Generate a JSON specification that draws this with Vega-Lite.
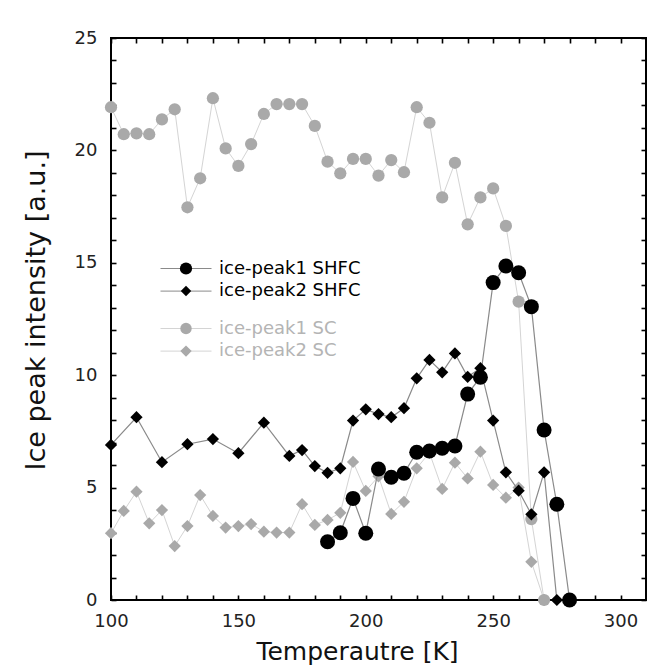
{
  "$schema": "https://vega.github.io/schema/vega-lite/v6.json",
  "width": 535,
  "height": 562,
  "autosize": "none",
  "padding": {"left": 111, "top": 38, "right": 6, "bottom": 70},
  "background": "white",
  "config": {
    "view": {"stroke": "black", "strokeWidth": 2},
    "font": "DejaVu Sans"
  },
  "data": {"values": [
    {"T":100,"I":2.97,"series":"ice-peak2 SC"},{"T":105,"I":3.96,"series":"ice-peak2 SC"},{"T":110,"I":4.82,"series":"ice-peak2 SC"},{"T":115,"I":3.41,"series":"ice-peak2 SC"},{"T":120,"I":4.0,"series":"ice-peak2 SC"},{"T":125,"I":2.4,"series":"ice-peak2 SC"},{"T":130,"I":3.29,"series":"ice-peak2 SC"},{"T":135,"I":4.67,"series":"ice-peak2 SC"},{"T":140,"I":3.74,"series":"ice-peak2 SC"},{"T":145,"I":3.22,"series":"ice-peak2 SC"},{"T":150,"I":3.29,"series":"ice-peak2 SC"},{"T":155,"I":3.38,"series":"ice-peak2 SC"},{"T":160,"I":3.04,"series":"ice-peak2 SC"},{"T":165,"I":3.0,"series":"ice-peak2 SC"},{"T":170,"I":3.0,"series":"ice-peak2 SC"},{"T":175,"I":4.26,"series":"ice-peak2 SC"},{"T":180,"I":3.34,"series":"ice-peak2 SC"},{"T":185,"I":3.56,"series":"ice-peak2 SC"},{"T":190,"I":3.88,"series":"ice-peak2 SC"},{"T":195,"I":6.14,"series":"ice-peak2 SC"},{"T":200,"I":4.85,"series":"ice-peak2 SC"},{"T":205,"I":5.5,"series":"ice-peak2 SC"},{"T":210,"I":3.83,"series":"ice-peak2 SC"},{"T":215,"I":4.37,"series":"ice-peak2 SC"},{"T":220,"I":5.86,"series":"ice-peak2 SC"},{"T":225,"I":6.55,"series":"ice-peak2 SC"},{"T":230,"I":4.94,"series":"ice-peak2 SC"},{"T":235,"I":6.11,"series":"ice-peak2 SC"},{"T":240,"I":5.41,"series":"ice-peak2 SC"},{"T":245,"I":6.6,"series":"ice-peak2 SC"},{"T":250,"I":5.12,"series":"ice-peak2 SC"},{"T":255,"I":4.55,"series":"ice-peak2 SC"},{"T":260,"I":5.0,"series":"ice-peak2 SC"},{"T":265,"I":1.7,"series":"ice-peak2 SC"},{"T":270,"I":0,"series":"ice-peak2 SC"},
    {"T":100,"I":21.92,"series":"ice-peak1 SC"},{"T":105,"I":20.72,"series":"ice-peak1 SC"},{"T":110,"I":20.76,"series":"ice-peak1 SC"},{"T":115,"I":20.72,"series":"ice-peak1 SC"},{"T":120,"I":21.38,"series":"ice-peak1 SC"},{"T":125,"I":21.83,"series":"ice-peak1 SC"},{"T":130,"I":17.47,"series":"ice-peak1 SC"},{"T":135,"I":18.76,"series":"ice-peak1 SC"},{"T":140,"I":22.32,"series":"ice-peak1 SC"},{"T":145,"I":20.09,"series":"ice-peak1 SC"},{"T":150,"I":19.31,"series":"ice-peak1 SC"},{"T":155,"I":20.28,"series":"ice-peak1 SC"},{"T":160,"I":21.62,"series":"ice-peak1 SC"},{"T":165,"I":22.06,"series":"ice-peak1 SC"},{"T":170,"I":22.06,"series":"ice-peak1 SC"},{"T":175,"I":22.06,"series":"ice-peak1 SC"},{"T":180,"I":21.09,"series":"ice-peak1 SC"},{"T":185,"I":19.5,"series":"ice-peak1 SC"},{"T":190,"I":18.98,"series":"ice-peak1 SC"},{"T":195,"I":19.62,"series":"ice-peak1 SC"},{"T":200,"I":19.62,"series":"ice-peak1 SC"},{"T":205,"I":18.88,"series":"ice-peak1 SC"},{"T":210,"I":19.57,"series":"ice-peak1 SC"},{"T":215,"I":19.03,"series":"ice-peak1 SC"},{"T":220,"I":21.92,"series":"ice-peak1 SC"},{"T":225,"I":21.23,"series":"ice-peak1 SC"},{"T":230,"I":17.91,"series":"ice-peak1 SC"},{"T":235,"I":19.45,"series":"ice-peak1 SC"},{"T":240,"I":16.71,"series":"ice-peak1 SC"},{"T":245,"I":17.91,"series":"ice-peak1 SC"},{"T":250,"I":18.31,"series":"ice-peak1 SC"},{"T":255,"I":16.64,"series":"ice-peak1 SC"},{"T":260,"I":13.27,"series":"ice-peak1 SC"},{"T":265,"I":3.6,"series":"ice-peak1 SC"},{"T":270,"I":0,"series":"ice-peak1 SC"},
    {"T":100,"I":6.9,"series":"ice-peak2 SHFC"},{"T":110,"I":8.13,"series":"ice-peak2 SHFC"},{"T":120,"I":6.13,"series":"ice-peak2 SHFC"},{"T":130,"I":6.93,"series":"ice-peak2 SHFC"},{"T":140,"I":7.16,"series":"ice-peak2 SHFC"},{"T":150,"I":6.53,"series":"ice-peak2 SHFC"},{"T":160,"I":7.89,"series":"ice-peak2 SHFC"},{"T":170,"I":6.41,"series":"ice-peak2 SHFC"},{"T":175,"I":6.67,"series":"ice-peak2 SHFC"},{"T":180,"I":5.96,"series":"ice-peak2 SHFC"},{"T":185,"I":5.66,"series":"ice-peak2 SHFC"},{"T":190,"I":5.86,"series":"ice-peak2 SHFC"},{"T":195,"I":7.98,"series":"ice-peak2 SHFC"},{"T":200,"I":8.48,"series":"ice-peak2 SHFC"},{"T":205,"I":8.27,"series":"ice-peak2 SHFC"},{"T":210,"I":8.13,"series":"ice-peak2 SHFC"},{"T":215,"I":8.53,"series":"ice-peak2 SHFC"},{"T":220,"I":9.86,"series":"ice-peak2 SHFC"},{"T":225,"I":10.68,"series":"ice-peak2 SHFC"},{"T":230,"I":10.13,"series":"ice-peak2 SHFC"},{"T":235,"I":10.97,"series":"ice-peak2 SHFC"},{"T":240,"I":9.93,"series":"ice-peak2 SHFC"},{"T":245,"I":10.31,"series":"ice-peak2 SHFC"},{"T":250,"I":7.98,"series":"ice-peak2 SHFC"},{"T":255,"I":5.68,"series":"ice-peak2 SHFC"},{"T":260,"I":4.86,"series":"ice-peak2 SHFC"},{"T":265,"I":3.81,"series":"ice-peak2 SHFC"},{"T":270,"I":5.68,"series":"ice-peak2 SHFC"},{"T":275,"I":0,"series":"ice-peak2 SHFC"},
    {"T":185,"I":2.59,"series":"ice-peak1 SHFC"},{"T":190,"I":2.99,"series":"ice-peak1 SHFC"},{"T":195,"I":4.52,"series":"ice-peak1 SHFC"},{"T":200,"I":2.97,"series":"ice-peak1 SHFC"},{"T":205,"I":5.83,"series":"ice-peak1 SHFC"},{"T":210,"I":5.46,"series":"ice-peak1 SHFC"},{"T":215,"I":5.64,"series":"ice-peak1 SHFC"},{"T":220,"I":6.57,"series":"ice-peak1 SHFC"},{"T":225,"I":6.63,"series":"ice-peak1 SHFC"},{"T":230,"I":6.75,"series":"ice-peak1 SHFC"},{"T":235,"I":6.85,"series":"ice-peak1 SHFC"},{"T":240,"I":9.16,"series":"ice-peak1 SHFC"},{"T":245,"I":9.91,"series":"ice-peak1 SHFC"},{"T":250,"I":14.12,"series":"ice-peak1 SHFC"},{"T":255,"I":14.86,"series":"ice-peak1 SHFC"},{"T":260,"I":14.56,"series":"ice-peak1 SHFC"},{"T":265,"I":13.05,"series":"ice-peak1 SHFC"},{"T":270,"I":7.56,"series":"ice-peak1 SHFC"},{"T":275,"I":4.26,"series":"ice-peak1 SHFC"},{"T":280,"I":0,"series":"ice-peak1 SHFC"}
  ]},
  "layer": [
    {
      "transform": [{"filter": {"field": "series", "oneOf": ["ice-peak1 SC", "ice-peak2 SC"]}}],
      "mark": {"type": "line", "strokeWidth": 1},
      "encoding": {
        "x": {"field": "T", "type": "quantitative", "scale": {"domain": [100, 310], "nice": false, "zero": false},
          "axis": {"orient": "top", "values": [100,110,120,130,140,150,160,170,180,190,200,210,220,230,240,250,260,270,280,290,300], "labels": false, "title": null, "domain": false, "grid": false, "tickSize": -5, "tickColor": "black", "tickWidth": 1.6,
            "encode": {"ticks": {"update": {"y2": {"signal": "datum.value % 50 === 0 ? 7 : 4"}}}}}},
        "y": {"field": "I", "type": "quantitative", "scale": {"domain": [0, 25], "nice": false},
          "axis": {"orient": "right", "values": [0,1,2,3,4,5,6,7,8,9,10,11,12,13,14,15,16,17,18,19,20,21,22,23,24,25], "labels": false, "title": null, "domain": false, "grid": false, "tickSize": -5, "tickColor": "black", "tickWidth": 1.6,
            "encode": {"ticks": {"update": {"x2": {"signal": "datum.value % 5 === 0 ? -7 : -4"}}}}}},
        "stroke": {"field": "series", "type": "nominal", "scale": {"domain": ["ice-peak1 SC", "ice-peak2 SC"], "range": ["#d4d4d4", "#d4d4d4"]},
          "legend": {"orient": "none", "legendX": 66, "legendY": 281.5, "title": null, "symbolType": "M-4.25,0H4.25", "symbolSize": 144, "symbolStrokeWidth": 1, "labelFont": "DejaVu Sans", "labelFontSize": 18, "labelColor": "#b4b4b4", "labelOffset": 24, "rowPadding": 4.6, "padding": 0, "zindex": 0}}
      }
    },
    {
      "transform": [{"filter": {"field": "series", "oneOf": ["ice-peak1 SC", "ice-peak2 SC"]}}],
      "mark": {"type": "point", "filled": true, "opacity": 1, "strokeWidth": 0, "size": 150},
      "encoding": {
        "x": {"field": "T", "type": "quantitative", "axis": null},
        "y": {"field": "I", "type": "quantitative", "axis": null},
        "fill": {"field": "series", "type": "nominal", "scale": {"range": ["#a9a9a9", "#a9a9a9"]},
          "legend": {"orient": "none", "legendX": 66, "legendY": 281.5, "title": null, "symbolSize": 130, "symbolStrokeWidth": 0, "symbolOpacity": 1, "labelExpr": "' '", "labelFontSize": 18, "rowPadding": 4.6, "padding": 0, "zindex": 1}},
        "shape": {"field": "series", "type": "nominal", "scale": {"range": ["circle", "diamond"]},
          "legend": {"orient": "none", "legendX": 66, "legendY": 281.5, "title": null, "symbolSize": 130, "symbolStrokeWidth": 0, "symbolOpacity": 1, "labelExpr": "' '", "labelFontSize": 18, "rowPadding": 4.6, "padding": 0, "zindex": 1}}
      }
    },
    {
      "transform": [{"filter": {"field": "series", "oneOf": ["ice-peak1 SHFC", "ice-peak2 SHFC"]}}],
      "mark": {"type": "line", "strokeWidth": 1.2},
      "encoding": {
        "x": {"field": "T", "type": "quantitative",
          "axis": {"orient": "bottom", "values": [100,110,120,130,140,150,160,170,180,190,200,210,220,230,240,250,260,270,280,290,300], "labelExpr": "datum.value % 50 === 0 ? datum.label : ''", "labelOverlap": false, "labelFlush": false, "labelFont": "DejaVu Sans", "labelFontSize": 18, "labelColor": "#222", "labelPadding": 17, "domain": false, "grid": false, "tickSize": -5, "tickColor": "black", "tickWidth": 1.6,
            "title": "Temperautre [K]", "titleFont": "DejaVu Sans", "titleFontSize": 25, "titleFontWeight": "normal", "titleColor": "#111", "titlePadding": 9, "titleX": 246,
            "encode": {"ticks": {"update": {"y2": {"signal": "datum.value % 50 === 0 ? -7 : -4"}}}}}},
        "y": {"field": "I", "type": "quantitative",
          "axis": {"orient": "left", "values": [0,1,2,3,4,5,6,7,8,9,10,11,12,13,14,15,16,17,18,19,20,21,22,23,24,25], "labelExpr": "datum.value % 5 === 0 ? datum.label : ''", "labelOverlap": false, "labelFlush": false, "labelFont": "DejaVu Sans", "labelFontSize": 18, "labelColor": "#222", "labelPadding": 19, "domain": false, "grid": false, "tickSize": -5, "tickColor": "black", "tickWidth": 1.6,
            "title": "Ice peak intensity [a.u.]", "titleFont": "DejaVu Sans", "titleFontSize": 27, "titleFontWeight": "normal", "titleColor": "#111", "titlePadding": 24, "titleY": 272,
            "encode": {"ticks": {"update": {"x2": {"signal": "datum.value % 5 === 0 ? 7 : 4"}}}}}},
        "stroke": {"field": "series", "type": "nominal", "scale": {"domain": ["ice-peak1 SHFC", "ice-peak2 SHFC"], "range": ["#8a8a8a", "#8a8a8a"]},
          "legend": {"orient": "none", "legendX": 66, "legendY": 221.5, "title": null, "symbolType": "M-4.25,0H4.25", "symbolSize": 144, "symbolStrokeWidth": 1, "labelFont": "DejaVu Sans", "labelFontSize": 18, "labelColor": "#000", "labelOffset": 24, "rowPadding": 4.6, "padding": 0, "zindex": 0}}
      }
    },
    {
      "transform": [{"filter": {"field": "series", "equal": "ice-peak2 SHFC"}}],
      "mark": {"type": "point", "filled": true, "opacity": 1, "strokeWidth": 0, "size": 150},
      "encoding": {
        "x": {"field": "T", "type": "quantitative", "axis": null},
        "y": {"field": "I", "type": "quantitative", "axis": null},
        "fill": {"field": "series", "type": "nominal", "scale": {"range": ["#000000"]},
          "legend": {"orient": "none", "legendX": 66, "legendY": 244.1, "title": null, "symbolSize": 110, "symbolStrokeWidth": 0, "symbolOpacity": 1, "labelExpr": "' '", "labelFontSize": 18, "rowPadding": 4.6, "padding": 0, "zindex": 1}},
        "shape": {"field": "series", "type": "nominal", "scale": {"range": ["diamond"]},
          "legend": {"orient": "none", "legendX": 66, "legendY": 244.1, "title": null, "symbolSize": 110, "symbolStrokeWidth": 0, "symbolOpacity": 1, "labelExpr": "' '", "labelFontSize": 18, "rowPadding": 4.6, "padding": 0, "zindex": 1}}
      }
    },
    {
      "transform": [{"filter": {"field": "series", "equal": "ice-peak1 SHFC"}}],
      "mark": {"type": "point", "filled": true, "opacity": 1, "strokeWidth": 0, "size": 225},
      "encoding": {
        "x": {"field": "T", "type": "quantitative", "axis": null},
        "y": {"field": "I", "type": "quantitative", "axis": null},
        "fill": {"field": "series", "type": "nominal", "scale": {"range": ["#000000"]},
          "legend": {"orient": "none", "legendX": 66, "legendY": 221.5, "title": null, "symbolSize": 150, "symbolStrokeWidth": 0, "symbolOpacity": 1, "labelExpr": "' '", "labelFontSize": 18, "rowPadding": 4.6, "padding": 0, "zindex": 1}},
        "shape": {"field": "series", "type": "nominal", "scale": {"range": ["circle"]},
          "legend": {"orient": "none", "legendX": 66, "legendY": 221.5, "title": null, "symbolSize": 150, "symbolStrokeWidth": 0, "symbolOpacity": 1, "labelExpr": "' '", "labelFontSize": 18, "rowPadding": 4.6, "padding": 0, "zindex": 1}}
      }
    }
  ],
  "resolve": {
    "scale": {"stroke": "independent", "fill": "independent", "shape": "independent"},
    "axis": {"x": "independent", "y": "independent"}
  }
}
